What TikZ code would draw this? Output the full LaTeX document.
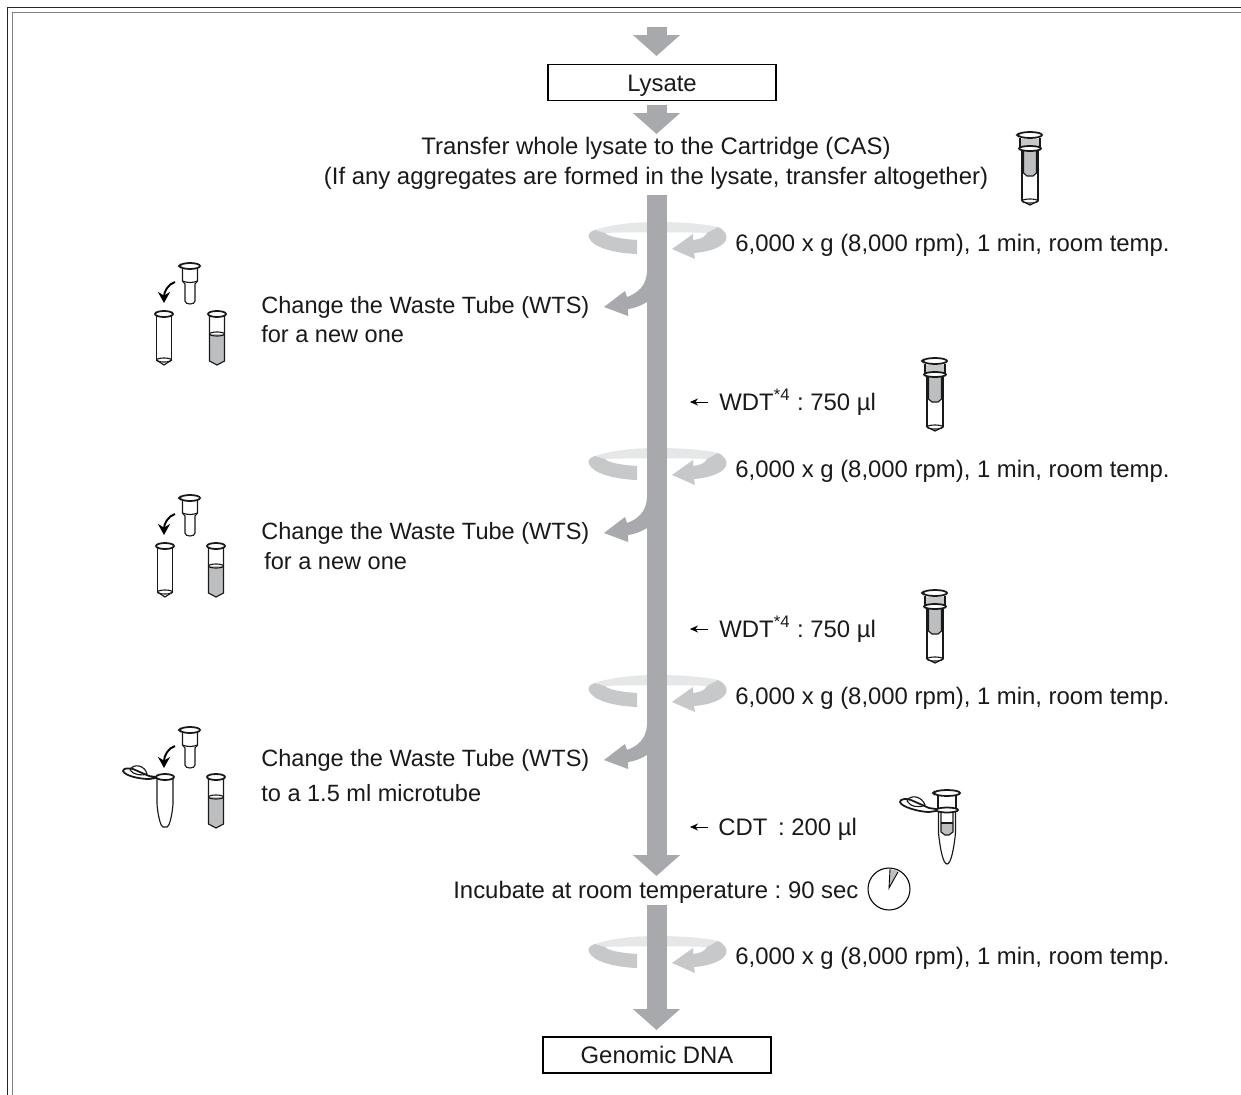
\documentclass[tikz,border=0pt]{standalone}
\usepackage{fontspec}
\setmainfont{Liberation Sans}
\usetikzlibrary{arrows.meta}
\definecolor{shaftgray}{HTML}{A7A9AC}
\definecolor{bandgray}{HTML}{C7C8CA}
\definecolor{backgray}{HTML}{E6E7E8}
\definecolor{liquidgray}{HTML}{BCBEC0}
\frenchspacing
\tikzset{
	flowarrow/.style = {shaftgray, line width = 0.4cm, -{Triangle[length=0.42cm,width=0.92cm]}},
	flowlabel/.style = {font = \fontsize{13.6}{17}\selectfont, text = black!90, inner sep = 0pt, anchor = base west},
	changelabel/.style = {flowlabel, font = \fontsize{13.4}{17}\selectfont},
	stepbox/.style = {draw, line width = 0.8pt, text = black!90, font = \fontsize{13.6}{17}\selectfont, text height = 9.8pt, text depth = 0pt, minimum width = 4.56cm, minimum height = 0.72cm, inner sep = 0pt},
	pointer/.style = {line width = 0.5pt, -{Stealth[length=1.6mm,width=1.4mm]}},
	tubeline/.style = {line width = 0.65pt, black!90},
	rimline/.style = {line width = 1pt, black!90},
	bentarrow/.style = {line width = 1.1pt, -{Stealth[length=2.2mm,width=2.4mm]}},
	pics/spin/.style = {code = {
		\fill[backgray] (-62,-10) .. controls (-48,-15) and (-25,-18) .. (0,-18) .. controls (25,-18) and (48,-16) .. (61,-13) -- (50,-7) .. controls (35,-8) and (-35,-8) .. (-52,-7) -- cycle;
		\fill[bandgray] (-62,-10) .. controls (-69,-8) and (-69,-4) .. (-68,-2) .. controls (-64,7) and (-45,13) .. (-20,14) -- (-20,0) .. controls (-35,-1) and (-48,-3) .. (-52,-7) -- cycle;
		\fill[bandgray] (61,-13) .. controls (68,-10) and (71,-4) .. (69,0) .. controls (66,7) and (52,12) .. (37,13) -- (38,19) -- (15,9) -- (36,-6) -- (36,0) .. controls (44,-1) and (48,-3) .. (50,-7) -- cycle;
	}},
	pics/branch/.style = {code = {
		\fill[shaftgray] (-9,32) .. controls (-10,46) and (-18,53) .. (-29,57) -- (-31,51) -- (-52,67) -- (-28,76) -- (-28,69) .. controls (-20,68) and (-14,65) .. (-9,62) -- cycle;
	}},
	pics/wastetube/.style = {code = {
		\draw[tubeline] (-7.5,2) -- (-7.5,46) (7.5,2) -- (7.5,46);
		\draw[tubeline] (-7.5,46) arc [start angle = 180, end angle = 540, x radius = 7.5, y radius = 2];
		\draw[tubeline] (-7.5,46) -- (0,51) -- (7.5,46);
		\draw[rimline] (0,0) ellipse [x radius = 9, y radius = 3];
	}},
	pics/liquidtube/.style = {code = {
		\fill[liquidgray] (-7.5,20) -- (7.5,20) -- (7.5,47) -- (0,51) -- (-7.5,47) -- cycle;
		\draw[tubeline] (0,20) ellipse [x radius = 7.5, y radius = 2];
		\draw[tubeline] (-7.5,2) -- (-7.5,47) -- (0,51) -- (7.5,47) -- (7.5,2);
		\draw[rimline] (0,0) ellipse [x radius = 9, y radius = 3];
	}},
	pics/insert/.style = {code = {
		\draw[tubeline] (-7.5,2) -- (-7.5,15) -- (-5,18) -- (-5,35) .. controls (-5,39) and (5,39) .. (5,35) -- (5,18) -- (7.5,15) -- (7.5,2);
		\draw[tubeline] (-7.5,15) .. controls (-3,17) and (3,17) .. (7.5,15);
		\draw[rimline] (0,0) ellipse [x radius = 10, y radius = 3];
		\draw[tubeline] (-9,-2) -- (-11.5,0) -- (-9,2);
	}},
	pics/cartridge/.style = {code = {
		\fill[backgray!70!gray] (-9,4) -- (9,4) -- (9,12) -- (-9,12) -- cycle;
		\fill[liquidgray] (-6.5,16) -- (6.5,16) -- (6.5,38) -- (3,41) -- (-3,41) -- (-6.5,38) -- cycle;
		\draw[tubeline] (-6.5,16) -- (-6.5,38) -- (-3,41) -- (3,41) -- (6.5,38) -- (6.5,16);
		\draw[tubeline] (-8,16) -- (-8,66) (8,16) -- (8,66);
		\draw[tubeline] (-8,66) arc [start angle = 180, end angle = 540, x radius = 8, y radius = 2];
		\draw[tubeline] (-8,66) -- (0,70) -- (8,66);
		\draw[tubeline] (-10,3) -- (-10,13) (10,3) -- (10,13);
		\draw[rimline] (0,13.5) ellipse [x radius = 11, y radius = 2.5];
		\draw[rimline] (0,0) ellipse [x radius = 12, y radius = 3];
		\draw[tubeline] (-11,-2) -- (-13.5,0) -- (-11,2);
	}},
	pics/captube/.style = {code = {
		\draw[tubeline] (-8,2) -- (-8,27) .. controls (-7,40) and (-4,50) .. (-2,50) -- (2,50) .. controls (4,50) and (7,40) .. (8,27) -- (8,2);
		\draw[rimline] (0,0) ellipse [x radius = 9, y radius = 3];
		\draw[rimline] (-9,1) -- (-16,2) .. controls (-25,2) and (-40,-1) .. (-42,-6) .. controls (-42,-9) and (-36,-9) .. (-32,-8) -- (-16,-1) -- (-9,0);
		\draw[tubeline] (-35,-7) .. controls (-32,-14) and (-20,-12) .. (-18,-3) .. controls (-22,-1) and (-32,-2) .. (-35,-7);
	}},
	pics/capcartridge/.style = {code = {
		\fill[liquidgray] (-6,30) -- (6,30) -- (6,39) -- (2,42) -- (-2,42) -- (-6,39) -- cycle;
		\draw[tubeline] (-6,19) -- (-6,39) -- (-2,42) -- (2,42) -- (6,39) -- (6,19);
		\draw[tubeline] (-6,30) -- (6,30);
		\draw[tubeline] (-8.5,19) -- (-8.5,40) .. controls (-7,55) and (-4,71) .. (0,71) .. controls (4,71) and (7,55) .. (8.5,40) -- (8.5,19);
		\draw[tubeline] (-9,3) -- (-9,15) (9,3) -- (9,15);
		\draw[rimline] (0,17) ellipse [x radius = 11, y radius = 2.5];
		\draw[rimline] (0,0) ellipse [x radius = 13, y radius = 3];
		\draw[tubeline] (-12,-2) -- (-14.5,0) -- (-12,2);
		\draw[rimline] (-11,18) -- (-18,19) .. controls (-27,19) and (-46,14) .. (-47,9) .. controls (-47,6) and (-41,5) .. (-36,7) -- (-18,15) -- (-11,16);
		\draw[tubeline] (-40,8) .. controls (-37,1) and (-25,3) .. (-22,12) .. controls (-27,15) and (-37,14) .. (-40,8);
	}},
}
\begin{document}
\begin{tikzpicture}[x = 0.02cm, y = -0.02cm]
	\useasboundingbox (0,0) rectangle (1241,1095);
	% frame
	\draw[line width = 0.7pt, black!85] (7.5,1095) -- (7.5,7.5) -- (1241,7.5);
	\draw[line width = 1pt, black!50] (12.5,1095) -- (12.5,12.5) -- (1241,12.5);

	\coordinate (shaft) at (656.5,0);
	\coordinate (start) at (656.5,27);
	\coordinate (lowstart) at (656.5,905);

	\node[stepbox] (lysate) at (662,82.5) {Lysate};
	\node[stepbox] (genomic) at (657,1055) {Genomic DNA};
	\node[flowlabel, anchor = center, align = center] (transfer) at (656,163) {Transfer whole lysate to the Cartridge (CAS)\\(If any aggregates are formed in the lysate, transfer altogether)};
	\node[flowlabel] (incubate) at (453,898) {Incubate at room temperature : 90 sec};

	% spin marks lie behind the shaft
	\pic at (657,240) {spin};
	\pic at (657,466) {spin};
	\pic at (657,693) {spin};
	\pic at (657,954) {spin};

	% big arrows
	\draw[flowarrow] (start) -- (shaft |- 0,56);
	\draw[flowarrow] (shaft |- lysate.south) ++(0,4) -- (shaft |- 0,134);
	\draw[flowarrow] (shaft |- 0,195) -- (shaft |- 0,876);
	\draw[flowarrow] (lowstart) -- (shaft |- 0,1030);

	\pic at (656,240) {branch};
	\pic at (656,466) {branch};
	\pic at (656,693) {branch};

	\node[flowlabel] (spina) at (735,251) {6,000 x g (8,000 rpm), 1 min, room temp.};
	\node[flowlabel] (spinb) at (735,477) {6,000 x g (8,000 rpm), 1 min, room temp.};
	\node[flowlabel] (spinc) at (735,704) {6,000 x g (8,000 rpm), 1 min, room temp.};
	\node[flowlabel] (spind) at (735,964) {6,000 x g (8,000 rpm), 1 min, room temp.};

	\node[changelabel] (changea) at (261,313) {Change the Waste Tube (WTS)};
	\node[changelabel] (newa) at (261,342) {for a new one};
	\node[changelabel] (changeb) at (261,539) {Change the Waste Tube (WTS)};
	\node[changelabel] (newb) at (264,569) {for a new one};
	\node[changelabel] (changec) at (261,766) {Change the Waste Tube (WTS)};
	\node[changelabel] (newc) at (261,801) {to a 1.5 ml microtube};

	\node[flowlabel] (wdta) at (719,410) {WDT\textsuperscript{*4} : 750 µl};
	\node[flowlabel] (wdtb) at (719,637) {WDT\textsuperscript{*4} : 750 µl};
	\node[flowlabel] (cdt) at (718,835) {CDT\, : 200 µl};
	\coordinate (wdtaend) at (690,402);
	\coordinate (wdtbend) at (690,629);
	\coordinate (cdtend) at (690,827);
	\draw[pointer] (708,402) -- (wdtaend);
	\draw[pointer] (708,629) -- (wdtbend);
	\draw[pointer] (708,827) -- (cdtend);

	% tubes
	\pic at (1030,135) {cartridge};
	\pic at (935,361) {cartridge};
	\pic at (935,593) {cartridge};
	\pic at (947,793) {capcartridge};

	\pic at (190,266) {insert};
	\pic at (164,314) {wastetube};
	\pic at (217,314) {liquidtube};
	\draw[bentarrow] (175,282) .. controls (168,284) and (164,292) .. (164,303);

	\pic at (190,498) {insert};
	\pic at (165,546) {wastetube};
	\pic at (216,546) {liquidtube};
	\draw[bentarrow] (175,514) .. controls (168,516) and (164,524) .. (164,535);

	\pic at (190,730) {insert};
	\pic at (165,777) {captube};
	\pic at (216,777) {liquidtube};
	\draw[bentarrow] (175,746) .. controls (168,748) and (164,756) .. (164,768);

	% clock
	\fill[liquidgray] (889,888) -- (890,869) -- (898,871) -- cycle;
	\draw[line width = 0.5pt] (890,869) -- (889,888) -- (898,872);
	\draw[line width = 0.6pt] (889,889) circle (21);
\end{tikzpicture}
\end{document}
